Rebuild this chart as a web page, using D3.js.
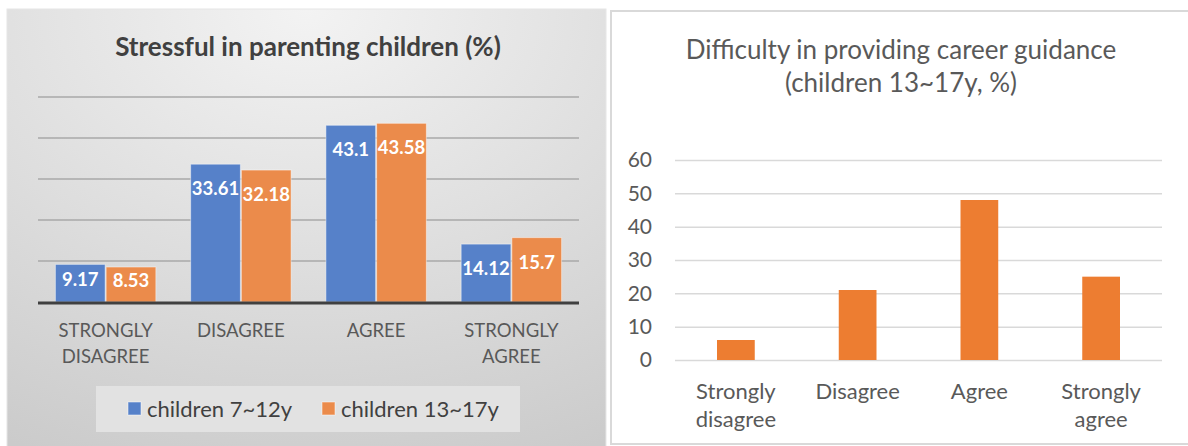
<!DOCTYPE html>
<html>
<head>
<meta charset="utf-8">
<script src="https://cdn.jsdelivr.net/npm/d3@7"></script>
<style>
  body { margin: 0; background: #fff; }
  svg { display: block; font-family: Lato, "Open Sans", sans-serif; }
</style>
</head>
<body>
<svg id="chart" width="1188" height="446"></svg>
<script>
// left chart data
var stressCategories = ["STRONGLY DISAGREE", "DISAGREE", "AGREE", "STRONGLY AGREE"];
var stressSeries = ["children 7~12y", "children 13~17y"];
var stress712 = [9.17, 33.61, 43.1, 14.12];
var stress1317 = [8.53, 32.18, 43.58, 15.7];
var stressGrid = [0, 10, 20, 30, 40, 50];

// right chart data
var careerCategories = ["Strongly disagree", "Disagree", "Agree", "Strongly agree"];
var careerValues = [6, 21, 48, 25];
var careerTicks = [0, 10, 20, 30, 40, 50, 60];

var svg = d3.select("#chart");
var blue = "#5681c9", orange = "#eb8b4b";

var defs = svg.append("defs");
var grad = defs.append("radialGradient")
  .attr("id", "bg")
  .attr("cx", "50%").attr("cy", "0%").attr("r", "110%")
  .attr("fx", "50%").attr("fy", "0%");
grad.append("stop").attr("offset", "0%").attr("stop-color", "#f3f3f3");
grad.append("stop").attr("offset", "100%").attr("stop-color", "#cbcbcb");

// ---------- left panel ----------
var left = svg.append("g");
left.append("rect")
  .attr("x", 7).attr("y", 9).attr("width", 599).attr("height", 440)
  .attr("fill", "url(#bg)")
  .attr("stroke", "#e6e6e6").attr("stroke-width", 1);

left.append("text")
  .attr("x", 308).attr("y", 56)
  .attr("text-anchor", "middle")
  .attr("font-size", 26).attr("font-weight", "bold")
  .attr("fill", "#404040")
  .text("Stressful in parenting children (%)");

var ly = d3.scaleLinear().domain([0, 50]).range([302, 97]);
var lx0 = d3.scaleBand().domain(stressCategories).range([38, 579])
  .paddingInner(0.25).paddingOuter(0.125);
var lx1 = d3.scaleBand().domain(stressSeries).range([0, lx0.bandwidth()]);

left.selectAll("line.grid")
  .data(stressGrid.slice(1))
  .enter().append("line")
  .attr("class", "grid")
  .attr("x1", 38).attr("x2", 579)
  .attr("y1", function(d) { return ly(d); })
  .attr("y2", function(d) { return ly(d); })
  .attr("stroke", "#a8a8a8").attr("stroke-width", 1.5);

var rows = stressCategories.map(function(c, i) {
  return [
    { cat: c, series: stressSeries[0], value: stress712[i], color: blue },
    { cat: c, series: stressSeries[1], value: stress1317[i], color: orange }
  ];
});

var groups = left.selectAll("g.cat")
  .data(rows)
  .enter().append("g")
  .attr("class", "cat")
  .attr("transform", function(d, i) { return "translate(" + lx0(stressCategories[i]) + ",0)"; });

groups.selectAll("rect")
  .data(function(d) { return d; })
  .enter().append("rect")
  .attr("x", function(d) { return lx1(d.series) + 0.5; })
  .attr("width", lx1.bandwidth() - 1)
  .attr("y", function(d) { return ly(d.value); })
  .attr("height", function(d) { return ly(0) - ly(d.value); })
  .attr("fill", function(d) { return d.color; })
  .attr("stroke", "rgba(255,255,255,0.45)").attr("stroke-width", 1);

// labels sit inside the top of each bar
groups.selectAll("text")
  .data(function(d) { return d; })
  .enter().append("text")
  .attr("x", function(d) { return lx1(d.series) + lx1.bandwidth() / 2; })
  .attr("y", function(d) {
    var top = ly(d.value), h = ly(0) - top;
    return top + Math.min(31, h * 0.57);
  })
  .attr("text-anchor", "middle")
  .attr("font-size", 18.5).attr("font-weight", "bold")
  .attr("fill", "#fff")
  .text(function(d) { return d.value; });

left.append("line")
  .attr("x1", 38).attr("x2", 579)
  .attr("y1", ly(0) + 1).attr("y2", ly(0) + 1)
  .attr("stroke", "#404040").attr("stroke-width", 3);

left.selectAll("text.cat")
  .data(stressCategories)
  .enter().append("text")
  .attr("class", "cat")
  .attr("text-anchor", "middle")
  .attr("font-size", 18.5)
  .attr("fill", "#595959")
  .each(function(d) {
    var words = d.split(" ");
    var t = d3.select(this);
    words.forEach(function(w, j) {
      t.append("tspan")
        .attr("x", lx0(d) + lx0.bandwidth() / 2)
        .attr("y", 337 + j * 26)
        .text(w);
    });
  });

// legend
var legend = left.append("g");
legend.append("rect")
  .attr("x", 96).attr("y", 386).attr("width", 424).attr("height", 46)
  .attr("fill", "#e2e2e2");
var legX = [128, 322];
stressSeries.forEach(function(s, i) {
  legend.append("rect")
    .attr("x", legX[i]).attr("y", 402).attr("width", 13).attr("height", 13)
    .attr("fill", i === 0 ? blue : orange)
    .attr("stroke", "rgba(255,255,255,0.5)");
  legend.append("text")
    .attr("x", legX[i] + 19).attr("y", 417)
    .attr("font-size", 22).attr("fill", "#404040")
    .text(s);
});

// ---------- right panel ----------
var right = svg.append("g");
right.append("rect")
  .attr("x", 611).attr("y", 11).attr("width", 590).attr("height", 433)
  .attr("fill", "#fff")
  .attr("stroke", "#d9d9d9").attr("stroke-width", 2);

right.append("text")
  .attr("x", 901).attr("y", 59)
  .attr("text-anchor", "middle")
  .attr("font-size", 26).attr("fill", "#595959")
  .text("Difficulty in providing career guidance");
right.append("text")
  .attr("x", 901).attr("y", 92)
  .attr("text-anchor", "middle")
  .attr("font-size", 26).attr("fill", "#595959")
  .text("(children 13~17y, %)");

var ry = d3.scaleLinear().domain([0, 60]).range([360, 160]);
var rx = d3.scaleBand().domain(careerCategories).range([675, 1162])
  .paddingInner(0.69).paddingOuter(0.345);

var yAxis = d3.axisLeft(ry).tickValues(careerTicks).tickSize(-(1162 - 675)).tickPadding(23);
var ya = right.append("g")
  .attr("transform", "translate(675,0)")
  .call(yAxis);
ya.select(".domain").remove();
ya.selectAll(".tick line").attr("stroke", "#d9d9d9").attr("stroke-width", 1.5);
ya.selectAll(".tick text")
  .attr("font-size", 21).attr("fill", "#595959")
  .attr("font-family", "Lato, 'Open Sans', sans-serif");

right.selectAll("rect.bar")
  .data(careerValues)
  .enter().append("rect")
  .attr("class", "bar")
  .attr("x", function(d, i) { return rx(careerCategories[i]); })
  .attr("width", rx.bandwidth())
  .attr("y", function(d) { return ry(d); })
  .attr("height", function(d) { return ry(0) - ry(d); })
  .attr("fill", "#ed7d31");

right.selectAll("text.cat")
  .data(careerCategories)
  .enter().append("text")
  .attr("class", "cat")
  .attr("text-anchor", "middle")
  .attr("font-size", 22)
  .attr("fill", "#595959")
  .each(function(d) {
    var words = d.split(" ");
    var t = d3.select(this);
    words.forEach(function(w, j) {
      t.append("tspan")
        .attr("x", rx(d) + rx.bandwidth() / 2)
        .attr("y", 399 + j * 28)
        .text(w);
    });
  });
</script>
</body>
</html>
